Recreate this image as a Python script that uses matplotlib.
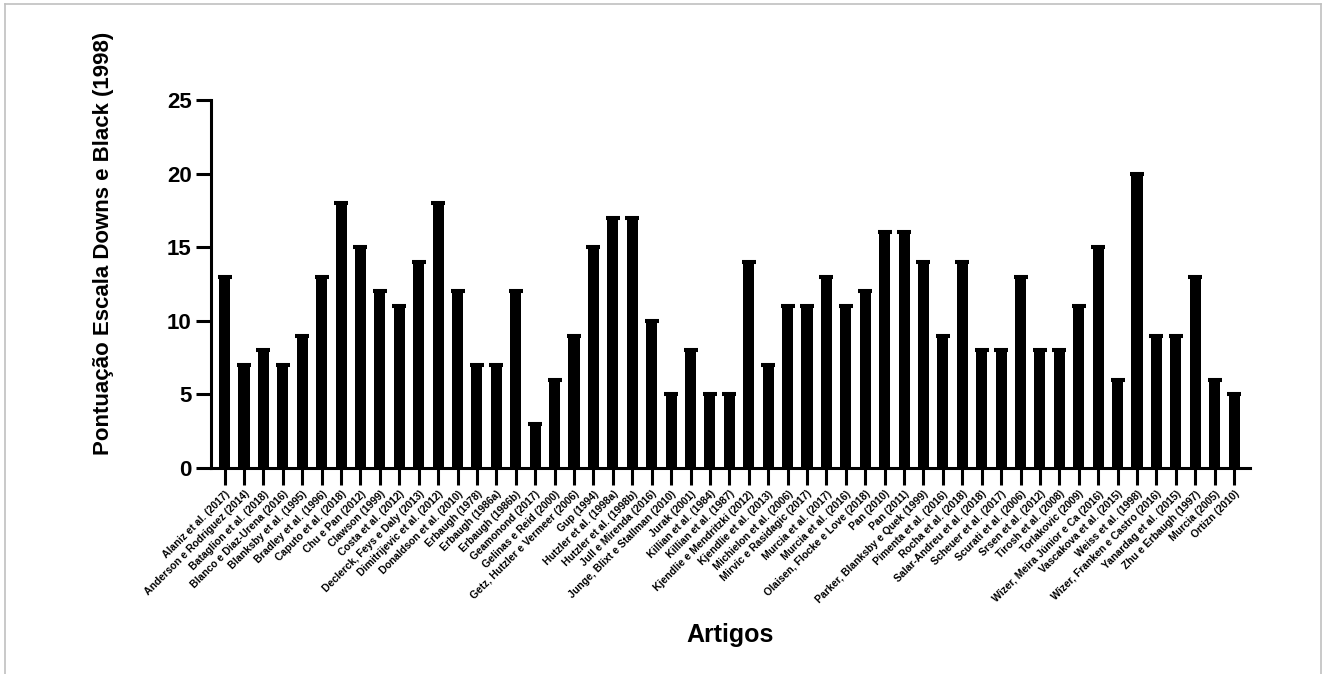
import matplotlib
matplotlib.use("Agg")
import matplotlib.pyplot as plt
from matplotlib.lines import Line2D

plt.rcParams['font.family'] = ['Liberation Sans', 'DejaVu Sans']

artigos = [
    "Alaniz et al. (2017)", "Anderson e Rodriguez (2014)", "Bataglion et al. (2018)",
    "Blanco e Diaz-Urena (2016)", "Blanksby et al. (1995)", "Bradley et al. (1996)",
    "Caputo et al. (2018)", "Chu e Pan (2012)", "Clawson (1999)", "Costa et al. (2012)",
    "Declerck, Feys e Daly (2013)", "Dimitrijevic et al. (2012)", "Donaldson et al. (2010)",
    "Erbaugh (1978)", "Erbaugh (1986a)", "Erbaugh (1986b)", "Geamonond (2017)",
    "Gelinas e Reid (2000)", "Getz, Hutzler e Vermeer (2006)", "Gup (1994)",
    "Hutzler et al. (1998a)", "Hutzler et al. (1998b)", "Jull e Mirenda (2016)",
    "Junge, Blixt e Stallman (2010)", "Jurak (2001)", "Killian et al. (1984)",
    "Killian et al. (1987)", "Kjendlie e Mendritzki (2012)", "Kjendlie et al. (2013)",
    "Michielon et al. (2006)", "Mirvic e Rasidagic (2017)", "Murcia et al. (2017)",
    "Murcia et al. (2016)", "Olaisen, Flocke e Love (2018)", "Pan (2010)", "Pan (2011)",
    "Parker, Blanksby e Quek (1999)", "Pimenta et al. (2016)", "Rocha et al. (2018)",
    "Salar-Andreu et al. (2018)", "Scheuer et al. (2017)", "Scurati et al. (2006)",
    "Srsen et al. (2012)", "Tirosh et al. (2008)", "Torlakovic (2009)",
    "Wizer, Meira Júnior e Ca (2016)", "Vascakova et al. (2015)", "Weiss et al. (1998)",
    "Wizer, Franken e Castro (2016)", "Yanardag et al. (2015)", "Zhu e Erbaugh (1997)",
    "Murcia (2005)", "Ortizn (2010)",
]
pontuacao = [13, 7, 8, 7, 9, 13, 18, 15, 12, 11, 14, 18, 12, 7, 7, 12, 3, 6, 9, 15,
             17, 17, 10, 5, 8, 5, 5, 14, 7, 11, 11, 13, 11, 12, 16, 16, 14, 9, 14, 8,
             8, 13, 8, 8, 11, 15, 6, 20, 9, 9, 13, 6, 5]
y_ticks = [0, 5, 10, 15, 20, 25]

W, H = 1327, 674
fig = plt.figure(figsize=(W / 100, H / 100), dpi=100)
ax = fig.add_axes([211 / W, 1 - 468 / H, (1250 - 211) / W, (468 - 100) / H])

x = list(range(len(artigos)))
ax.bar(x, pontuacao, width=0.57, color='black', edgecolor='black', linewidth=0)
ax.errorbar(x, pontuacao, yerr=[0] * len(x), fmt='none', ecolor='black',
            capsize=4.9, capthick=2.9, elinewidth=0)

ax.set_xlim(-0.7, len(artigos) - 1 + 0.82)
ax.set_ylim(0, 25)
ax.set_yticks(y_ticks)
ax.set_yticklabels([str(t) for t in y_ticks], fontsize=16, fontweight='bold')
ax.set_xticks(x)
ax.set_xticklabels(artigos, rotation=45, ha='right', rotation_mode='anchor',
                   fontsize=7.5, fontweight='bold')

for s in ['top', 'right']:
    ax.spines[s].set_visible(False)
for s in ['left', 'bottom']:
    ax.spines[s].set_linewidth(2.2)
ax.tick_params(axis='y', length=11, width=2.2, pad=3)
ax.tick_params(axis='x', length=12, width=2.2, pad=3)

fig.text(103 / W, 1 - 243 / H, "Pontuação Escala Downs e Black (1998)", rotation=90,
         ha='center', va='center', fontsize=16, fontweight='bold')
fig.text(730 / W, 1 - 635 / H, "Artigos", ha='center', va='center',
         fontsize=18, fontweight='bold')

# light grey frame
gc = '#c0c0c0'
fig.add_artist(Line2D([5 / W, 5 / W], [0, 1 - 4 / H], color=gc, lw=1.2, transform=fig.transFigure))
fig.add_artist(Line2D([5 / W, 1321 / W], [1 - 4 / H, 1 - 4 / H], color=gc, lw=1.2, transform=fig.transFigure))
fig.add_artist(Line2D([1321 / W, 1321 / W], [0, 1 - 4 / H], color=gc, lw=1.2, transform=fig.transFigure))

fig.savefig("out.png", dpi=100)
